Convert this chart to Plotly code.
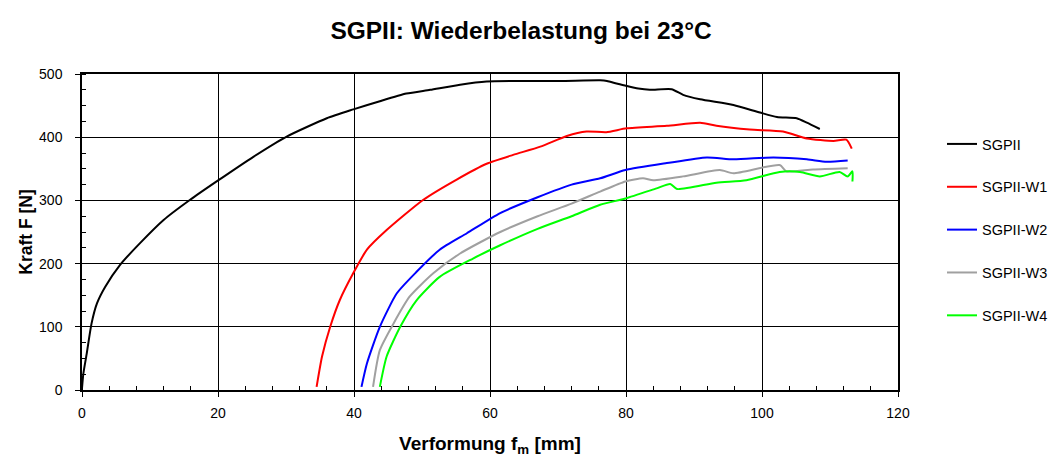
import plotly.graph_objects as go

# Verformung f_m [mm] and Kraft F [N] for each load cycle
sgp_x = [0.0, 0.2, 0.7, 1.4, 2.2, 3.4, 5.6, 8.5, 12.0, 15.9, 19.8, 25.2, 30.1, 36.0, 39.9, 43.8,
         47.7, 51.2, 55.6, 59.5, 64.9, 70.3, 76.2, 77.2, 78.6, 80.1, 81.8, 83.5, 86.7, 88.4,
         90.9, 95.8, 99.7, 102.2, 105.1, 106.6, 108.5]
sgp_f = [3, 26, 58, 105, 137, 163, 198, 232, 269, 301, 330, 369, 401, 430, 444, 457,
         469, 475, 483, 488, 489, 489, 490, 489, 485, 481, 477, 475, 476, 467,
         460, 451, 439, 432, 430, 423, 413]

w1_x = [34.5, 35.3, 36.5, 37.9, 39.9, 41.9, 44.8, 50.2, 55.1, 59.5, 63.4, 67.4, 71.3, 74.2,
        77.1, 80.1, 86.0, 90.9, 93.3, 98.2, 103.1, 106.6, 110.5, 112.4, 113.2]
w1_f = [5, 53, 100, 142, 185, 222, 253, 301, 333, 358, 372, 385, 402, 409,
        408, 414, 418, 423, 418, 412, 409, 398, 394, 396, 382]

w2_x = [41.1, 41.9, 43.8, 46.3, 49.2, 52.6, 56.6, 61.5, 67.0, 72.0, 76.2, 79.9, 86.0, 91.9,
        95.8, 101.7, 106.6, 109.5, 112.6]
w2_f = [5, 42, 100, 153, 187, 222, 248, 280, 305, 325, 335, 348, 359, 368,
        365, 368, 365, 361, 363]

w3_x = [42.8, 43.8, 45.8, 48.2, 51.7, 55.6, 61.5, 67.0, 72.0, 76.2, 79.9, 82.5, 84.0, 88.4,
        93.8, 95.8, 102.6, 103.6, 107.5, 112.6]
w3_f = [5, 63, 105, 148, 185, 216, 250, 275, 295, 314, 330, 335, 332, 338,
        348, 343, 356, 346, 349, 351]

w4_x = [43.8, 44.8, 46.8, 49.2, 52.6, 57.5, 61.5, 67.0, 72.0, 76.2, 79.9, 84.5, 86.5, 87.5,
        93.3, 97.7, 102.6, 105.6, 108.5, 111.4, 112.6, 113.3, 113.3]
w4_f = [5, 53, 100, 142, 179, 208, 229, 255, 275, 293, 303, 319, 326, 318,
        328, 332, 345, 345, 338, 345, 338, 346, 330]

series = [
    ("SGPII", sgp_x, sgp_f, "#000000"),
    ("SGPII-W1", w1_x, w1_f, "#ff0000"),
    ("SGPII-W2", w2_x, w2_f, "#0000ff"),
    ("SGPII-W3", w3_x, w3_f, "#a0a0a0"),
    ("SGPII-W4", w4_x, w4_f, "#00ff00"),
]

x_ticks = [0, 20, 40, 60, 80, 100, 120]
y_ticks = [0, 100, 200, 300, 400, 500]

font_family = "Liberation Sans, Arial, sans-serif"

fig = go.Figure()
for name, xs, fs, color in series:
    fig.add_trace(go.Scatter(
        x=xs, y=fs, mode="lines", name=name, legendgroup=name,
        line=dict(color=color, width=2, shape="spline", smoothing=0.6),
    ))

axis_common = dict(
    showline=True, linecolor="#000000", linewidth=1.5, mirror=True,
    showgrid=True, gridcolor="#000000", gridwidth=1,
    ticks="outside", ticklen=5, tickcolor="#000000", tickwidth=1,
    tickfont=dict(family=font_family, size=14, color="#000000"),
    zeroline=False, automargin=False,
)

fig.update_layout(
    width=1058, height=457,
    margin=dict(l=82, r=160, t=74, b=67),
    paper_bgcolor="#ffffff", plot_bgcolor="#ffffff",
    font=dict(family=font_family, color="#000000"),
    title=dict(
        text="<b>SGPII: Wiederbelastung bei 23°C</b>",
        font=dict(family=font_family, size=24.5, color="#000000"),
        x=0.538, xref="paper", xanchor="center",
        y=1 - 30 / 457, yref="container", yanchor="middle",
    ),
    xaxis=dict(
        range=[0, 120], tickvals=x_ticks, ticklabelstandoff=4,
        title=dict(text="<b>Verformung f<sub>m</sub> [mm]</b>",
                   font=dict(family=font_family, size=19, color="#000000"),
                   standoff=19),
        minor=dict(dtick=4, ticks="inside", ticklen=4, tickcolor="#000000", showgrid=False),
        **axis_common,
    ),
    yaxis=dict(
        range=[0, 500], tickvals=y_ticks, ticklabelstandoff=10,
        title=dict(text="<b>Kraft F [N]</b>",
                   font=dict(family=font_family, size=17.5, color="#000000"),
                   standoff=2),
        minor=dict(dtick=25, ticks="inside", ticklen=4, tickcolor="#000000", showgrid=False),
        **axis_common,
    ),
    legend=dict(
        xref="container", x=942 / 1058, xanchor="left",
        yref="container", y=1 - 128 / 457, yanchor="top",
        font=dict(family=font_family, size=14.5, color="#000000"),
        tracegroupgap=21, traceorder="grouped",
        bgcolor="rgba(0,0,0,0)", borderwidth=0,
    ),
    showlegend=True,
)

fig.write_html("out.html")
